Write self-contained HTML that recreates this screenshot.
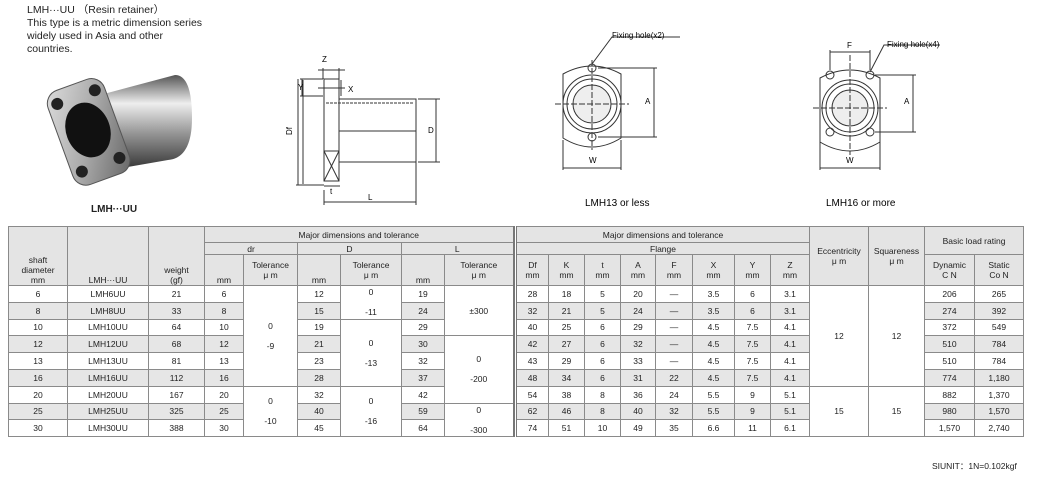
<!DOCTYPE html>
<html><head><meta charset="utf-8">
<style>
body{margin:0;width:1038px;height:477px;background:#fff;position:relative;overflow:hidden;font-family:"Liberation Sans","Noto Sans CJK SC",sans-serif;color:#222}
.t{position:absolute;font-size:10.5px;line-height:13px}
table{position:absolute;left:8px;top:226px;border-collapse:collapse;table-layout:fixed;font-size:8.5px}
td{border:1px solid #8a8a8a;text-align:center;padding:0;overflow:hidden;white-space:nowrap;line-height:10px}
tr.h td{background:#e4e4e4}
tr.g td{background:#e6e6e6}
td.w{background:#fff!important}
td.gap{border:none;border-left:2px solid #777;border-right:1px solid #777;background:#fff!important}
tr.d{height:16.8px}
</style></head><body>
<div class="t" style="left:27px;top:4px">LMH···UU （Resin retainer）<br>This type is a metric dimension series<br>widely used in Asia and other<br>countries.</div>
<div class="t" style="left:91px;top:203px;font-weight:bold;font-size:10px">LMH···UU</div>
<svg width="1038" height="225" style="position:absolute;left:0;top:0" font-family="Liberation Sans" font-size="8">
<defs><linearGradient id="cy" x1="0" y1="0" x2="0" y2="1"><stop offset="0" stop-color="#555"/><stop offset=".3" stop-color="#eee"/><stop offset=".6" stop-color="#999"/><stop offset="1" stop-color="#333"/></linearGradient>
<linearGradient id="fl" x1="0" y1="0" x2="1" y2="1"><stop offset="0" stop-color="#ddd"/><stop offset=".5" stop-color="#aaa"/><stop offset="1" stop-color="#666"/></linearGradient></defs>
<path d="M100 95 L175 75 Q192 75 192 118 Q192 158 168 160 L110 170 Z" fill="url(#cy)"/>
<g transform="rotate(-20 88 130)"><rect x="58" y="82" width="60" height="100" rx="14" fill="url(#fl)" stroke="#555"/>
<ellipse cx="88" cy="130" rx="22" ry="28" fill="#111"/>
<circle cx="68" cy="95" r="6" fill="#222"/><circle cx="108" cy="95" r="6" fill="#222"/><circle cx="68" cy="167" r="6" fill="#222"/><circle cx="108" cy="167" r="6" fill="#222"/></g>
<g stroke="#333" fill="none" stroke-width="1">
<rect x="324" y="79" width="15" height="72"/><rect x="324" y="151" width="15" height="30"/>
<path d="M339 99 H416 V162 H339"/><path d="M339 131 H416"/>
<path d="M324 151 L339 181 M339 151 L324 181"/>
<path d="M326 103 H414" stroke-dasharray="3 1"/>
<path d="M323 79 V68 M339 79 V68 M318 70 H345"/>
<path d="M300 79 H323 M300 96 H323 M302 79 V96 M341 80 V96 M318 88 H345"/>
<path d="M298 79 V185 M296 185 H324 M303 80 V184"/>
<path d="M324 190 V205 M416 162 V205 M324 202 H416"/>
<path d="M418 99 H440 M418 162 H440 M436 99 V162"/>
<path d="M324 186 H340"/>
</g>
<text x="322" y="62">Z</text><text x="298" y="90">Y</text><text x="348" y="92">X</text><text x="292" y="135" transform="rotate(-90 292 135)">Df</text><text x="428" y="133">D</text><text x="368" y="200">L</text><text x="330" y="194">t</text>
<g stroke="#333" fill="none">
<path d="M563 74 Q592 58 621 74 V138 Q592 156 563 138 Z"/>
<circle cx="592" cy="104" r="29"/><circle cx="592" cy="104" r="25"/><circle cx="592" cy="104" r="19" fill="#eee"/>
<circle cx="592" cy="68" r="4"/><circle cx="592" cy="137" r="4"/>
<path d="M555 104 H629 M592 60 V150" stroke-dasharray="6 2"/>
<path d="M592 64 L612 37 H680 M598 68 H657 M598 137 H657 M654 68 V137 M563 140 V170 M621 140 V170 M563 168 H621"/>
<path d="M820 78 Q850 62 880 78 V142 Q850 160 820 142 Z"/>
<circle cx="850" cy="108" r="28"/><circle cx="850" cy="108" r="24"/><circle cx="850" cy="108" r="18" fill="#eee"/>
<circle cx="830" cy="75" r="4"/><circle cx="870" cy="75" r="4"/><circle cx="830" cy="132" r="4"/><circle cx="870" cy="132" r="4"/>
<path d="M813 108 H887 M850 55 V155" stroke-dasharray="6 2"/>
<path d="M830 50 V70 M870 50 V70 M830 52 H870 M870 72 L884 45 H940 M875 75 H916 M875 132 H916 M913 75 V132 M820 142 V170 M880 142 V170 M820 168 H880"/>
</g>
<text x="612" y="38">Fixing hole(x2)</text><text x="645" y="104">A</text><text x="589" y="163">W</text>
<text x="887" y="47">Fixing hole(x4)</text><text x="904" y="104">A</text><text x="846" y="163">W</text><text x="847" y="48">F</text>
<text x="585" y="206" font-size="10">LMH13 or less</text><text x="826" y="206" font-size="10">LMH16 or more</text>
</svg>
<table>
<colgroup><col style="width:59px"><col style="width:81px"><col style="width:56px"><col style="width:39px"><col style="width:54px"><col style="width:43px"><col style="width:61px"><col style="width:43px"><col style="width:69px"><col style="width:3px"><col style="width:32px"><col style="width:36px"><col style="width:36px"><col style="width:35px"><col style="width:37px"><col style="width:42px"><col style="width:36px"><col style="width:39px"><col style="width:59px"><col style="width:56px"><col style="width:50px"><col style="width:49px"></colgroup>
<tr class="h" style="height:16px"><td rowspan="3" style="vertical-align:bottom">shaft<br>diameter<br>mm</td><td rowspan="3" style="vertical-align:bottom">LMH···UU</td><td rowspan="3" style="vertical-align:bottom">weight<br>(gf)</td><td colspan="6">Major dimensions and tolerance</td><td class="gap" rowspan="12"></td><td colspan="8">Major dimensions and tolerance</td><td rowspan="3">Eccentricity<br>μ m</td><td rowspan="3">Squareness<br>μ m</td><td colspan="2" rowspan="2">Basic load rating</td></tr>
<tr class="h" style="height:12px"><td colspan="2">dr</td><td colspan="2">D</td><td colspan="2">L</td><td colspan="8">Flange</td></tr>
<tr class="h" style="height:31px"><td style="vertical-align:bottom">mm</td><td>Tolerance<br>μ m</td><td style="vertical-align:bottom">mm</td><td>Tolerance<br>μ m</td><td style="vertical-align:bottom">mm</td><td>Tolerance<br>μ m</td><td>Df<br>mm</td><td>K<br>mm</td><td>t<br>mm</td><td>A<br>mm</td><td>F<br>mm</td><td>X<br>mm</td><td>Y<br>mm</td><td>Z<br>mm</td><td>Dynamic<br>C N</td><td>Static<br>Co N</td></tr>
<tr class="d"><td>6</td><td>LMH6UU</td><td>21</td><td>6</td><td class="w" rowspan="6">0<br><br>-9</td><td>12</td><td class="w" rowspan="2">0<br><br>-11</td><td>19</td><td class="w" rowspan="3">±300</td><td>28</td><td>18</td><td>5</td><td>20</td><td>—</td><td>3.5</td><td>6</td><td>3.1</td><td class="w" rowspan="6">12</td><td class="w" rowspan="6">12</td><td>206</td><td>265</td></tr>
<tr class="d g"><td>8</td><td>LMH8UU</td><td>33</td><td>8</td><td>15</td><td>24</td><td>32</td><td>21</td><td>5</td><td>24</td><td>—</td><td>3.5</td><td>6</td><td>3.1</td><td>274</td><td>392</td></tr>
<tr class="d"><td>10</td><td>LMH10UU</td><td>64</td><td>10</td><td>19</td><td class="w" rowspan="4">0<br><br>-13</td><td>29</td><td>40</td><td>25</td><td>6</td><td>29</td><td>—</td><td>4.5</td><td>7.5</td><td>4.1</td><td>372</td><td>549</td></tr>
<tr class="d g"><td>12</td><td>LMH12UU</td><td>68</td><td>12</td><td>21</td><td>30</td><td class="w" rowspan="4">0<br><br>-200</td><td>42</td><td>27</td><td>6</td><td>32</td><td>—</td><td>4.5</td><td>7.5</td><td>4.1</td><td>510</td><td>784</td></tr>
<tr class="d"><td>13</td><td>LMH13UU</td><td>81</td><td>13</td><td>23</td><td>32</td><td>43</td><td>29</td><td>6</td><td>33</td><td>—</td><td>4.5</td><td>7.5</td><td>4.1</td><td>510</td><td>784</td></tr>
<tr class="d g"><td>16</td><td>LMH16UU</td><td>112</td><td>16</td><td>28</td><td>37</td><td>48</td><td>34</td><td>6</td><td>31</td><td>22</td><td>4.5</td><td>7.5</td><td>4.1</td><td>774</td><td>1,180</td></tr>
<tr class="d"><td>20</td><td>LMH20UU</td><td>167</td><td>20</td><td class="w" rowspan="3">0<br><br>-10</td><td>32</td><td class="w" rowspan="3">0<br><br>-16</td><td>42</td><td>54</td><td>38</td><td>8</td><td>36</td><td>24</td><td>5.5</td><td>9</td><td>5.1</td><td class="w" rowspan="3">15</td><td class="w" rowspan="3">15</td><td>882</td><td>1,370</td></tr>
<tr class="d g"><td>25</td><td>LMH25UU</td><td>325</td><td>25</td><td>40</td><td>59</td><td class="w" rowspan="2">0<br><br>-300</td><td>62</td><td>46</td><td>8</td><td>40</td><td>32</td><td>5.5</td><td>9</td><td>5.1</td><td>980</td><td>1,570</td></tr>
<tr class="d"><td>30</td><td>LMH30UU</td><td>388</td><td>30</td><td>45</td><td>64</td><td>74</td><td>51</td><td>10</td><td>49</td><td>35</td><td>6.6</td><td>11</td><td>6.1</td><td>1,570</td><td>2,740</td></tr>
</table>
<div class="t" style="left:932px;top:460px;font-size:8.5px">SIUNIT：1N=0.102kgf</div>
</body></html>
